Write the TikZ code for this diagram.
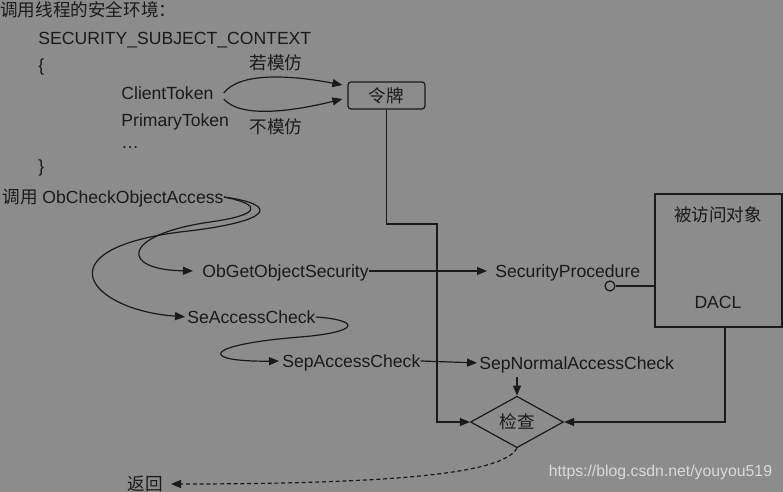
\documentclass[tikz,border=0pt]{standalone}
\usepackage{fontspec}
\setmainfont{Liberation Sans}
\newfontfamily\cjk{Noto Sans CJK SC}
\usetikzlibrary{shapes.geometric, arrows.meta, positioning, calc}
\definecolor{bggray}{RGB}{140,140,140}
\definecolor{ink}{RGB}{26,26,26}
\definecolor{wmark}{RGB}{218,218,218}

\begin{document}
\begin{tikzpicture}[x=0.5pt, y=-0.5pt,
      txt/.style={inner sep=0pt, text height=6.2pt, text depth=0pt,
                  font=\fontsize{8.8}{10}\selectfont, text=ink},
      lbl/.style={txt, anchor=west},
      cn/.style={txt, font=\fontsize{8.8}{10}\selectfont\cjk},
      tok/.style={draw=ink, line width=0.6pt, rounded corners=1.5pt,
                  minimum width=38.5pt, minimum height=13.5pt, inner sep=0pt,
                  font=\fontsize{8.8}{10}\selectfont\cjk, text=ink},
      objbox/.style={draw=ink, line width=0.6pt, minimum width=63.5pt,
                     minimum height=66.5pt, inner sep=0pt},
      gate/.style={diamond, draw=ink, line width=0.6pt, minimum width=46.5pt,
                   minimum height=25.5pt, inner sep=0pt,
                   font=\fontsize{8.8}{10}\selectfont\cjk, text=ink},
      ring/.style={circle, draw=ink, line width=0.6pt, minimum size=5pt,
                   inner sep=0pt},
      ln/.style={draw=ink, line width=0.6pt},
      arr/.style={ln, -{Triangle[length=5pt, width=4pt]}},
      back/.style={arr, dash pattern=on 2pt off 1.4pt},
      wm/.style={inner sep=0pt, font=\fontsize{7.9}{9}\selectfont, text=wmark}
    ]
    \fill[bggray] (0,0) rectangle (783,492);
    \useasboundingbox (0,0) rectangle (783,492);

    \node[cn, anchor=west]  (title)   at (0,10)    {调用线程的安全环境：};
    \node[lbl] (ctx)     at (38,38)   {SECURITY\_SUBJECT\_CONTEXT};
    \node[lbl] (lbr)     at (38,65)   {\{};
    \node[lbl] (client)  at (121,93)  {ClientToken};
    \node[lbl] (primary) at (121,120) {PrimaryToken};
    \node[lbl] (dots)    at (121,142) {\dots};
    \node[lbl] (rbr)     at (38,166)  {\}};
    \node[cn]  (imp)     at (276,63)  {若模仿};
    \node[cn]  (noimp)   at (276,127) {不模仿};
    \node[tok] (token)   at (386.5,95.5) {令牌};

    \node[lbl] (obcheck) at (2,197)   {{\cjk 调用} ObCheckObjectAccess};
    \node[lbl] (obget)   at (202,271) {ObGetObjectSecurity};
    \node[lbl] (seacc)   at (187,317) {SeAccessCheck};
    \node[lbl] (sepacc)  at (282,361) {SepAccessCheck};
    \node[lbl] (sepnorm) at (479,363) {SepNormalAccessCheck};
    \node[lbl] (secproc) at (495,271) {SecurityProcedure};

    \node[objbox] (obj)  at (718.5,260.5) {};
    \node[cn]  (objname) at (718,215) {被访问对象};
    \node[txt] (dacl)    at (718,302) {DACL};
    \node[ring] (port)   at (610,286) {};

    \node[gate] (check)  at (517,422) {检查};
    \node[cn]  (ret)     at (145,484) {返回};
    \node[wm]  (site)    at (660.5,472) {https://blog.csdn.net/youyou519};

    \coordinate (bend)    at (437,224);
    \coordinate (normout) at (517,377);

    \draw[arr] ([xshift=5pt]client.east) .. controls (240,72) and (290,75)
               .. ([shift={(-2.5pt,5.25pt)}]token.west);
    \draw[arr] ([shift={(5pt,-3pt)}]client.east) .. controls (240,118) and (290,112)
               .. ([shift={(-2.5pt,-1.75pt)}]token.west);
    \draw[arr] (token.south) |- (bend) |- (check.west);

    \draw[arr, shorten >=1pt] (obcheck.east) .. controls (282,205) and (272,222)
               .. (180,232) .. controls (40,250) and (90,310) .. (seacc.west);
    \draw[arr, shorten >=4.5pt] (obcheck.east) .. controls (264,205) and (260,215)
               .. (210,222) .. controls (120,235) and (120,270) .. (obget.west);
    \draw[arr, shorten >=1.5pt] (seacc.east) .. controls (360,320) and (362,332)
               .. (300,337) .. controls (200,345) and (200,362) .. (sepacc.west);

    \draw[arr, shorten >=4pt] (obget.east) -- (secproc.west);
    \draw[arr, shorten >=1pt] (sepacc.east) -- (sepnorm.west);
    \draw[arr] (normout) -- (check.north);
    \draw[ln] (obj.west |- port) -- (port.east);
    \draw[arr] ([xshift=3.25pt]obj.south) |- (check.east);
    \draw[back, shorten >=4pt] (check.south) .. controls (505,468) and (440,484)
               .. (ret.east);
  \end{tikzpicture}
\end{document}
